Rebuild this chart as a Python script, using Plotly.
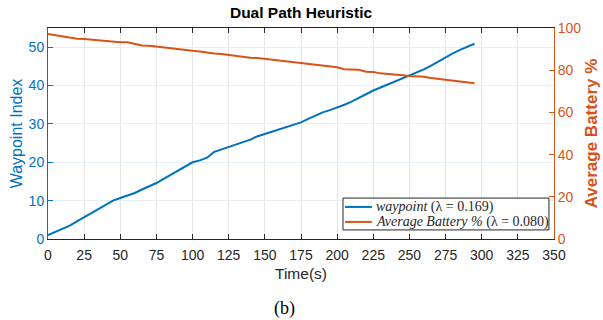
import plotly.graph_objects as go

time_s = list(range(0, 300, 5))
waypoint = [1, 1.8, 2.6, 3.5, 4.6, 5.7, 6.8, 7.8, 8.9, 10, 10.7, 11.3, 12, 12.9, 13.7, 14.6,
            15.7, 16.8, 17.8, 18.9, 20, 20.5, 21.2, 22.7, 23.3, 23.9, 24.5, 25.1, 25.9, 26.8,
            27.4, 28.0, 28.6, 29.2, 29.8, 30.4, 31.3, 32.2, 33.0, 33.6, 34.2, 35.0, 35.8, 36.8,
            37.8, 38.7, 39.5, 40.3, 41.1, 41.9, 42.6, 43.3, 44.2, 45.2, 46.3, 47.4, 48.4, 49.3,
            50.1, 50.9]
battery = [97.2, 96.6, 96.0, 95.4, 94.9, 94.8, 94.5, 94.0, 93.7, 93.4, 93.3, 93.2, 92.3, 91.7,
           91.6, 91.2, 90.6, 90.2, 90.0, 89.3, 89.2, 88.9, 88.3, 87.9, 87.7, 87.2, 86.6, 86.2,
           85.9, 85.8, 85.4, 85.1, 84.7, 84.2, 83.6, 83.4, 82.8, 82.6, 82.3, 81.9, 81.4, 80.5,
           80.2, 80.2, 79.3, 79.1, 78.5, 78.3, 78.1, 77.6, 77.2, 77.0, 76.9, 76.3, 75.9, 75.5,
           75.0, 74.6, 74.2, 73.8]
x_ticks = list(range(0, 351, 25))
left_ticks = [0, 10, 20, 30, 40, 50]
right_ticks = [0, 20, 40, 60, 80, 100]
legend_labels = ["<i>waypoint</i> (λ = 0.169)", "<i>Average Battery %</i> (λ = 0.080)"]

BLUE = "#0072BD"
ORANGE = "#D95319"

fig = go.Figure()
fig.add_trace(go.Scatter(x=time_s, y=waypoint, mode="lines", line=dict(color=BLUE, width=2),
                         name=legend_labels[0], showlegend=False))
fig.add_trace(go.Scatter(x=time_s, y=battery, mode="lines", line=dict(color=ORANGE, width=2),
                         name=legend_labels[1], yaxis="y2", showlegend=False))

fig.update_layout(
    width=603, height=320,
    margin=dict(l=48, r=49, t=28, b=81, autoexpand=False),
    plot_bgcolor="white", paper_bgcolor="white",
    font=dict(family="Liberation Sans, Arial", size=14),
    title=dict(text="<b>Dual Path Heuristic</b>", x=0.5, xref="paper", y=0.962, yanchor="middle",
               font=dict(size=15.5, color="black")),
    xaxis=dict(range=[0, 350], tickvals=x_ticks, ticks="inside", ticklen=5, tickcolor="#262626",
               showline=True, linecolor="#262626", linewidth=1, mirror="ticks",
               showgrid=True, gridcolor="#e6e6e6", zeroline=False, automargin=False,
               tickfont=dict(size=14, color="#262626"), ticklabelstandoff=3,
               title=dict(text="Time(s)", font=dict(size=15.5, color="#262626"), standoff=6)),
    yaxis=dict(range=[0, 55], tickvals=left_ticks, ticks="inside", ticklen=5, tickcolor=BLUE,
               showline=True, linecolor=BLUE, linewidth=1, automargin=False,
               showgrid=True, gridcolor="#e6eef5", zeroline=False,
               tickfont=dict(size=14, color=BLUE),
               title=dict(text="Waypoint Index", font=dict(size=16, color=BLUE), standoff=2)),
    yaxis2=dict(range=[0, 100], tickvals=right_ticks, overlaying="y", side="right",
                ticks="inside", ticklen=5, tickcolor=ORANGE, automargin=False,
                showline=True, linecolor=ORANGE, linewidth=1, showgrid=False, zeroline=False,
                tickfont=dict(size=14, color=ORANGE),
                title=dict(text="<b>Average Battery %</b>", font=dict(size=17, color=ORANGE), standoff=4)),
    showlegend=False,
)

# custom legend box (MATLAB style, compact rows)
fig.add_shape(type="rect", xref="paper", yref="paper", x0=0.583, x1=0.990, y0=0.043, y1=0.194,
              line=dict(color="#262626", width=1), fillcolor="white", layer="above")
for i, (lab, col) in enumerate(zip(legend_labels, [BLUE, ORANGE])):
    yy = 0.152 - i * 0.071
    fig.add_shape(type="line", xref="paper", yref="paper", x0=0.587, x1=0.640, y0=yy, y1=yy,
                  line=dict(color=col, width=2), layer="above")
    fig.add_annotation(text=lab, x=0.644, y=yy, xref="paper", yref="paper", showarrow=False,
                       xanchor="left", yanchor="middle",
                       font=dict(family="Liberation Serif, DejaVu Serif", size=14, color="#262626"))

fig.add_annotation(text="(b)", x=0.468, y=-0.33, xref="paper", yref="paper", showarrow=False,
                   yanchor="middle",
                   font=dict(family="Liberation Serif, DejaVu Serif", size=18, color="black"))

fig.write_html("out.html")
